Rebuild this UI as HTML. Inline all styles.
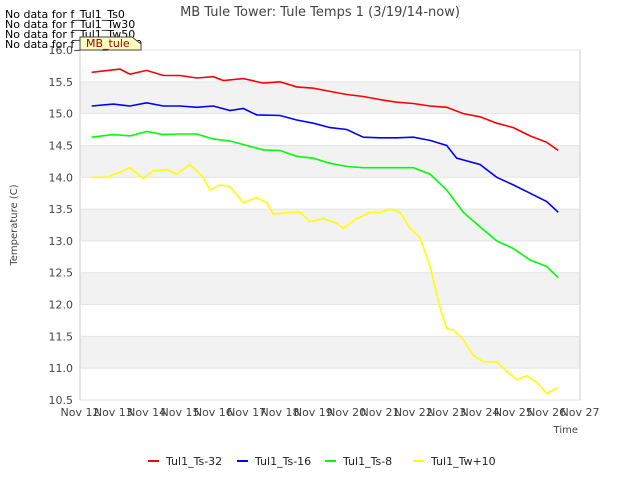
<!DOCTYPE html>
<html><head><meta charset="utf-8"><style>
body{margin:0;background:#fff;font-family:"Liberation Sans","DejaVu Sans",sans-serif}
svg text{font-family:"DejaVu Sans","Liberation Sans",sans-serif}
</style></head><body>
<svg id="c" width="640" height="480" xmlns="http://www.w3.org/2000/svg">
<rect width="640" height="480" fill="#fff"/>
<g id="bands"></g>
<rect x="80" y="50" width="500" height="350" fill="none" stroke="#ccc"/>
<g id="ticks" font-size="11" fill="#444"></g>
<g id="series"></g>
<text x="320" y="16" text-anchor="middle" font-size="13" fill="#444">MB Tule Tower: Tule Temps 1 (3/19/14-now)</text>
<text x="17" y="225" text-anchor="middle" font-size="10" fill="#444" transform="rotate(-90 17 225)">Temperature (C)</text>
<text x="578" y="433" text-anchor="end" font-size="10" fill="#444">Time</text>
<g font-size="11" fill="#000">
<text x="5" y="18">No data for f_Tul1_Ts0</text>
<text x="5" y="28">No data for f_Tul1_Tw30</text>
<text x="5" y="38">No data for f_Tul1_Tw50</text>
<text x="5" y="48">No data for f_Tul1_Tw100</text>
</g>
<g><path d="M80 37 H132 L141 44 V50 H80 Z" fill="#ffffc0" stroke="#444"/><text x="86" y="47" font-size="11" fill="#a00000">MB_tule</text></g>
<g id="legend" font-size="11" fill="#222"></g>
</svg>
<script>
const yTicks=[10.5,11.0,11.5,12.0,12.5,13.0,13.5,14.0,14.5,15.0,15.5,16.0];
const xTicks=["Nov 12","Nov 13","Nov 14","Nov 15","Nov 16","Nov 17","Nov 18","Nov 19","Nov 20","Nov 21","Nov 22","Nov 23","Nov 24","Nov 25","Nov 26","Nov 27"];
const names=["Tul1_Ts-32","Tul1_Ts-16","Tul1_Ts-8","Tul1_Tw+10"];
const colors=["#ff0000","#0000ff","#00ff00","#ffff00"];
const redX=[12.35,13.2,13.5,14,14.5,15,15.5,16,16.3,16.9,17.5,18,18.5,19,19.5,20,20.5,21,21.5,22,22.5,23,23.5,24,24.5,25,25.5,26,26.35];
const redY=[15.65,15.7,15.62,15.68,15.6,15.6,15.56,15.58,15.52,15.55,15.48,15.5,15.42,15.4,15.35,15.3,15.27,15.22,15.18,15.16,15.12,15.1,15.0,14.95,14.85,14.78,14.65,14.55,14.42];
const blueX=[12.35,13,13.5,14,14.5,15,15.5,16,16.5,16.9,17.3,18,18.5,19,19.5,20,20.5,21,21.5,22,22.5,23,23.3,24,24.5,25,25.5,26,26.35];
const blueY=[15.12,15.15,15.12,15.17,15.12,15.12,15.1,15.12,15.05,15.08,14.98,14.97,14.9,14.85,14.78,14.75,14.63,14.62,14.62,14.63,14.58,14.5,14.3,14.2,14.0,13.88,13.75,13.62,13.45];
const greenX=[12.35,13,13.5,14,14.5,15,15.5,16,16.5,17,17.5,18,18.5,19,19.5,20,20.5,21,21.5,22,22.5,23,23.5,24,24.5,25,25.5,26,26.35];
const greenY=[14.63,14.67,14.65,14.72,14.67,14.68,14.68,14.6,14.57,14.5,14.43,14.42,14.33,14.3,14.22,14.17,14.15,14.15,14.15,14.15,14.05,13.8,13.45,13.22,13.0,12.88,12.7,12.6,12.42];
const yellowX=[12.35,12.8,13.2,13.5,13.9,14.2,14.6,14.9,15.3,15.7,15.9,16.2,16.5,16.9,17.3,17.6,17.8,18.3,18.6,18.9,19.3,19.7,19.9,20.3,20.7,21,21.3,21.6,21.9,22.2,22.5,22.8,23.0,23.2,23.5,23.8,24.1,24.5,24.8,25.1,25.4,25.7,26.0,26.35];
const yellowY=[14.0,14.0,14.08,14.15,13.98,14.1,14.12,14.05,14.2,14.0,13.8,13.88,13.85,13.6,13.68,13.6,13.42,13.45,13.45,13.3,13.35,13.28,13.2,13.35,13.45,13.45,13.5,13.45,13.2,13.05,12.6,11.95,11.62,11.6,11.45,11.2,11.1,11.1,10.95,10.82,10.88,10.78,10.6,10.7];
const X=d=>80+(d-12)*500/15;
const Y=v=>400-(v-10.5)*350/5.5;
const NS="http://www.w3.org/2000/svg";
function mk(t,a,p){const e=document.createElementNS(NS,t);for(const k in a)e.setAttribute(k,a[k]);p.appendChild(e);return e;}
const bands=document.getElementById('bands');
for(let v=11.0;v<16;v+=1){const r=mk('rect',{x:80,y:Y(v+0.5),width:500,height:Y(v)-Y(v+0.5),fill:'#f2f2f2'},bands);

}
const tk=document.getElementById('ticks');
yTicks.forEach(v=>{mk('line',{x1:80,x2:580,y1:Y(v),y2:Y(v),stroke:'#e4e4e4'},tk);
const t=mk('text',{x:73,y:Y(v)+4,'text-anchor':'end'},tk);t.textContent=v.toFixed(1);

});
xTicks.forEach((s,i)=>{const t=mk('text',{x:X(12+i),y:416,'text-anchor':'middle'},tk);t.textContent=s;

});
const sg=document.getElementById('series');
[[redX,redY],[blueX,blueY],[greenX,greenY],[yellowX,yellowY]].forEach((s,i)=>{
const pts=s[0].map((d,j)=>X(d).toFixed(1)+','+Y(s[1][j]).toFixed(1)).join(' ');
const p=mk('polyline',{points:pts,fill:'none',stroke:colors[i],'stroke-width':1.6},sg);

});
const lg=document.getElementById('legend');
const lx=[148,237,325,413];
names.forEach((n,i)=>{const g=mk('g',{},lg);


mk('line',{x1:lx[i],x2:lx[i]+11,y1:461,y2:461,stroke:colors[i],'stroke-width':2},g);
const t=mk('text',{x:lx[i]+18,y:465},g);t.textContent=n;});
</script>
</body></html>
